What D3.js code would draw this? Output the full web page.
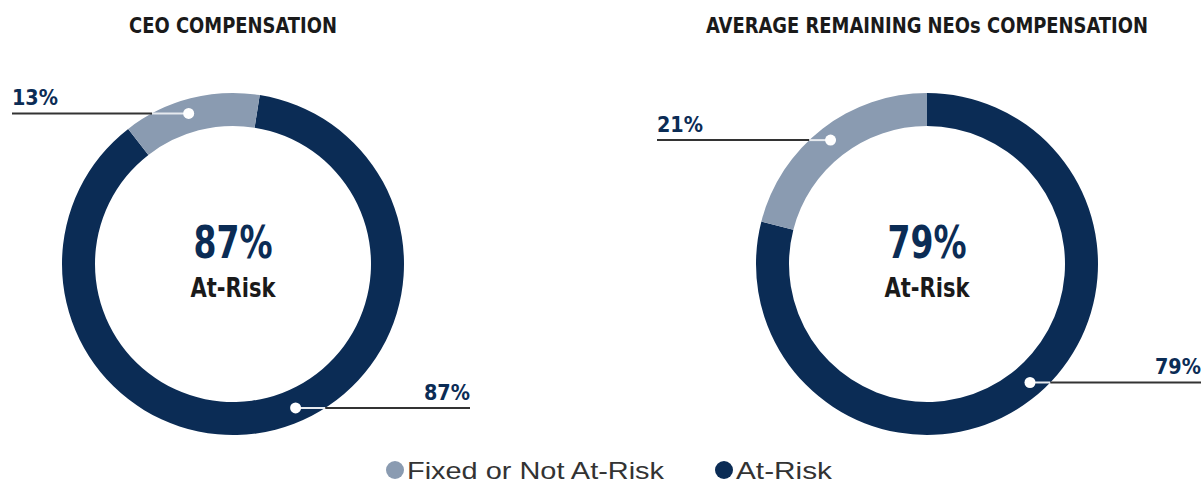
<!DOCTYPE html>
<html>
<head>
<meta charset="utf-8">
<script src="https://cdn.jsdelivr.net/npm/d3@7"></script>
<style>
  body { margin: 0; background: #fff; }
  svg { display: block; }
  .cond { font-family: "Liberation Sans Narrow", "DejaVu Sans Condensed", "Roboto Condensed", sans-serif; font-weight: bold; }
</style>
</head>
<body>
<div id="chart"></div>
<script>
// data
const chartTitles = ["CEO COMPENSATION", "AVERAGE REMAINING NEOs COMPENSATION"];
const categories = ["At-Risk", "Fixed or Not At-Risk"];
const atRiskValues = [87, 79];
const fixedValues = [13, 21];
const legendLabels = ["Fixed or Not At-Risk", "At-Risk"];

const width = 1201, height = 484;
const colors = { "At-Risk": "#0b2c55", "Fixed or Not At-Risk": "#8a9bb1" };
const rad = d => d * Math.PI / 180;

// layout per donut
const layout = [
  { cx: 233, cy: 264, start: 9, titleW: 208,
    dotAngle: { "At-Risk": 156.5, "Fixed or Not At-Risk": -16.4 },
    labelEnd: { "At-Risk": 470, "Fixed or Not At-Risk": 12 } },
  { cx: 927, cy: 264, start: 0, titleW: 442,
    dotAngle: { "At-Risk": 139, "Fixed or Not At-Risk": -37.9 },
    labelEnd: { "At-Risk": 1201, "Fixed or Not At-Risk": 657 } }
];

const outerR = 171, innerR = 138, dotR = 157;

const svg = d3.select("#chart").append("svg")
  .attr("width", width).attr("height", height);

const arc = d3.arc().innerRadius(innerR).outerRadius(outerR);

chartTitles.forEach((title, i) => {
  const L = layout[i];
  const values = [atRiskValues[i], fixedValues[i]];
  const pie = d3.pie().sort(null)
    .startAngle(rad(L.start)).endAngle(rad(L.start) + 2 * Math.PI);
  const data = pie(values);

  svg.append("text")
    .attr("class", "cond")
    .attr("x", L.cx).attr("y", 33)
    .attr("text-anchor", "middle")
    .attr("font-size", 21)
    .attr("fill", "#1a1a1a")
    .attr("textLength", L.titleW)
    .attr("lengthAdjust", "spacingAndGlyphs")
    .text(title);

  const g = svg.append("g").attr("transform", `translate(${L.cx},${L.cy})`);

  g.selectAll("path")
    .data(data)
    .enter().append("path")
    .attr("d", arc)
    .attr("fill", (d, k) => colors[categories[k]]);

  // center text
  g.append("text")
    .attr("class", "cond")
    .attr("y", -6)
    .attr("text-anchor", "middle")
    .attr("font-size", 44)
    .attr("fill", "#0b2c55")
    .attr("textLength", 79)
    .attr("lengthAdjust", "spacingAndGlyphs")
    .text(atRiskValues[i] + "%");
  g.append("text")
    .attr("class", "cond")
    .attr("y", 33)
    .attr("text-anchor", "middle")
    .attr("font-size", 27)
    .attr("fill", "#1a1a1a")
    .attr("textLength", 85)
    .attr("lengthAdjust", "spacingAndGlyphs")
    .text("At-Risk");

  // leader lines and labels
  categories.forEach((cat, k) => {
    const a = rad(L.dotAngle[cat]);
    const dx = dotR * Math.sin(a), dy = -dotR * Math.cos(a);
    const edgeX = Math.sign(dx) * Math.sqrt(outerR * outerR - dy * dy);
    const endX = L.labelEnd[cat] - L.cx;
    const right = endX > 0;

    g.append("line")
      .attr("x1", dx).attr("y1", dy).attr("x2", edgeX).attr("y2", dy)
      .attr("stroke", "#e6eaef").attr("stroke-width", 2);
    g.append("line")
      .attr("x1", edgeX).attr("y1", dy).attr("x2", endX).attr("y2", dy)
      .attr("stroke", "#333").attr("stroke-width", 2);
    g.append("circle")
      .attr("cx", dx).attr("cy", dy).attr("r", 5.5)
      .attr("fill", "#fff");
    g.append("text")
      .attr("class", "cond")
      .attr("x", endX).attr("y", dy - 8)
      .attr("text-anchor", right ? "end" : "start")
      .attr("font-size", 22)
      .attr("fill", "#0b2c55")
      .attr("textLength", 46)
      .attr("lengthAdjust", "spacingAndGlyphs")
      .text(values[k] + "%");
  });
});

// legend
const legendX = [395, 724];
const legendW = [257, 96];
legendLabels.forEach((lab, i) => {
  svg.append("circle")
    .attr("cx", legendX[i]).attr("cy", 470).attr("r", 9)
    .attr("fill", colors[lab]);
  svg.append("text")
    .attr("x", legendX[i] + 12).attr("y", 479)
    .attr("font-family", "'Liberation Sans', Arial, sans-serif")
    .attr("font-size", 24)
    .attr("fill", "#333")
    .attr("textLength", legendW[i])
    .attr("lengthAdjust", "spacingAndGlyphs")
    .text(lab);
});
</script>
</body>
</html>
